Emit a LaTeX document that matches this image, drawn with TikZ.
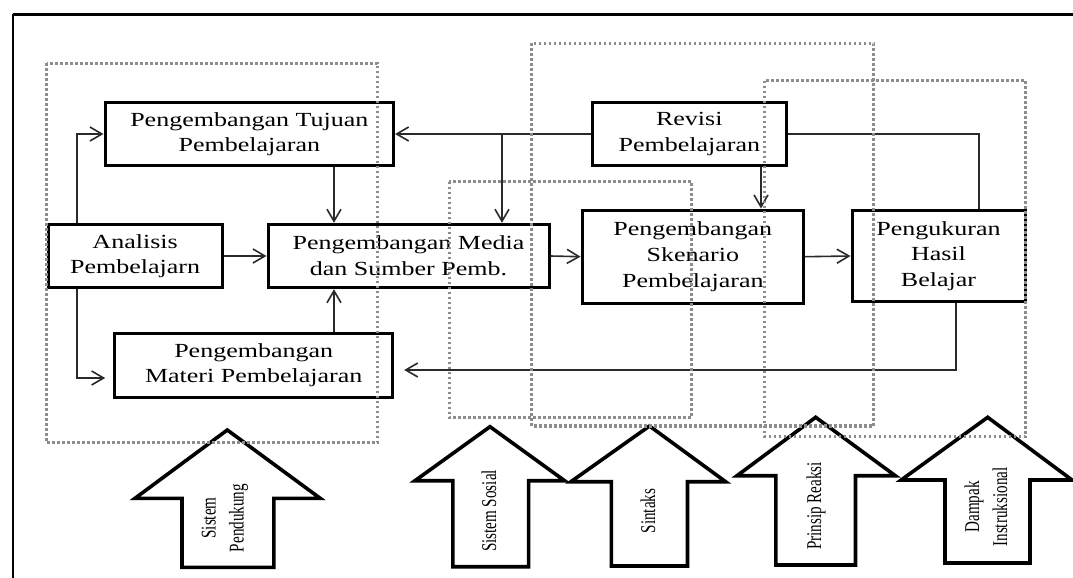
\documentclass[tikz,border=0pt]{standalone}
\usepackage{fontspec}
\setmainfont{Liberation Serif}
\newfontfamily\boxfont[FakeStretch=1.3]{Liberation Serif}
\newfontfamily\tagfont[FakeStretch=0.72]{Liberation Serif}
\usetikzlibrary{positioning}
\usetikzlibrary{arrows.meta}
\usetikzlibrary{calc}
\definecolor{zGray}{HTML}{8C8C8C}
\definecolor{lGray}{HTML}{2A2A2A}

\begin{document}
\begin{tikzpicture}[
    x=0.5pt, y=-0.5pt,
    stage/.style = {draw, line width=1.5pt, inner sep=0pt, align=center,
      font=\boxfont\fontsize{10}{12.8}\selectfont},
    flow/.style = {line width=0.8pt, color=lGray, -{Straight Barb[length=6pt,width=7pt]}},
    link/.style = {line width=0.8pt, color=lGray},
    zone/.style = {draw=zGray, line width=1.6pt, dash pattern=on 1.3pt off 1.2pt},
    pillar/.style = {draw, fill=white, line width=1.8pt},
    tag/.style = {rotate=90, align=center, inner sep=0pt,
      font=\tagfont\fontsize{10.5}{14}\selectfont},
    ]

    \useasboundingbox (0,0) rectangle (1073,578);

    % frame
    \draw[line width=1.5pt] (12.7,14) -- (1073,14);
    \draw[line width=1pt] (12.7,14) -- (12.7,578);

    % stages
    \node[stage, minimum width=144.3pt, minimum height=31.7pt] (tujuan) at (249.3,134)
      {Pengembangan Tujuan\\Pembelajaran};
    \node[stage, minimum width=97pt, minimum height=31.3pt] (revisi) at (689.3,134)
      {Revisi\\Pembelajaran};
    \node[stage, minimum width=86.9pt, minimum height=31.7pt] (analisis) at (135.1,256)
      {Analisis\\Pembelajarn};
    \node[stage, minimum width=140.5pt, minimum height=31.7pt] (media) at (408.5,256)
      {Pengembangan Media\\dan Sumber Pemb.};
    \node[stage, minimum width=110.75pt, minimum height=46.7pt] (skenario) at (692.8,256.7)
      {Pengembangan\\Skenario\\Pembelajaran};
    \node[stage, minimum width=86.5pt, minimum height=45.8pt] (ukur) at (938.5,256)
      {Pengukuran\\Hasil\\Belajar};
    \node[stage, minimum width=139pt, minimum height=32pt] (materi) at (253.7,365.3)
      {Pengembangan\\Materi Pembelajaran};

    \coordinate (ax) at (77,378);
    \coordinate (tm) at (334,0);
    \coordinate (split) at (502,134);
    \coordinate (rx) at (761,0);
    \coordinate (kx) at (979,0);
    \coordinate (ux) at (956,370);

    % analisis -> tujuan, materi, media
    \draw[flow] (analisis.north -| ax) |- (tujuan.west);
    \draw[flow, shorten >=4pt] (analisis.south -| ax) |- (materi.west |- ax);
    \draw[flow] (analisis.east) -- (media.west);

    % tujuan, materi -> media
    \draw[flow] (tujuan.south -| tm) -- (media.north -| tm);
    \draw[flow] (materi.north -| tm) -- (media.south -| tm);

    % revisi -> back
    \draw[flow] (revisi.west) -- (tujuan.east);
    \draw[flow] (split) -- (split |- media.north);
    \draw[flow] (revisi.south -| rx) -- (skenario.north -| rx);
    \draw[link] (revisi.east) -| (ukur.north -| kx);

    % main line
    \draw[flow] (media.east) -- (skenario.west);
    \draw[flow] (skenario.east) -- (ukur.west);
    \draw[flow, shorten >=5pt] (ukur.south -| ux) -- (ux) -- (ux -| materi.east);

    % pillars
    \draw[pillar] (227.3,430) -- (320.2,498.3) -- (273.8,498.3) -- (273.8,567.3)
      -- (182,567.3) -- (182,498.3) -- (135,498.3) -- cycle;
    \draw[pillar] (490,426.7) -- (564.6,480.7) -- (528.6,480.7) -- (528.6,566.7)
      -- (452.8,566.7) -- (452.8,480.7) -- (415,480.7) -- cycle;
    \draw[pillar] (649.5,426) -- (725.6,481.7) -- (687.5,481.7) -- (687.5,566)
      -- (611.4,566) -- (611.4,481.7) -- (570.9,481.7) -- cycle;
    \draw[pillar] (815.7,417.3) -- (895.3,475.7) -- (855.5,475.7) -- (855.5,565)
      -- (775.8,565) -- (775.8,475.7) -- (737,475.7) -- cycle;
    \draw[pillar] (987.7,417.3) -- (1072,480) -- (1030,480) -- (1030,563)
      -- (945,563) -- (945,480) -- (901.2,480) -- cycle;

    \node[tag] (pendukung) at (225,518) {Sistem\\Pendukung};
    \node[tag] (sosial) at (489,511) {Sistem Sosial};
    \node[tag] (sintaks) at (648,511) {Sintaks};
    \node[tag] (reaksi) at (816,506) {Prinsip Reaksi};
    \node[tag] (dampak) at (986,507) {Dampak\\Instruksional};

    % zones
    \draw[zone] (46.5,63.3) rectangle (377.8,442.7);
    \draw[zone] (449.4,181.7) rectangle (691.7,417.7);
    \draw[zone] (531.7,43.3) rectangle (873.8,426);
    \draw[zone] (764.8,80.7) rectangle (1025.8,436.7);

  \end{tikzpicture}
\end{document}
